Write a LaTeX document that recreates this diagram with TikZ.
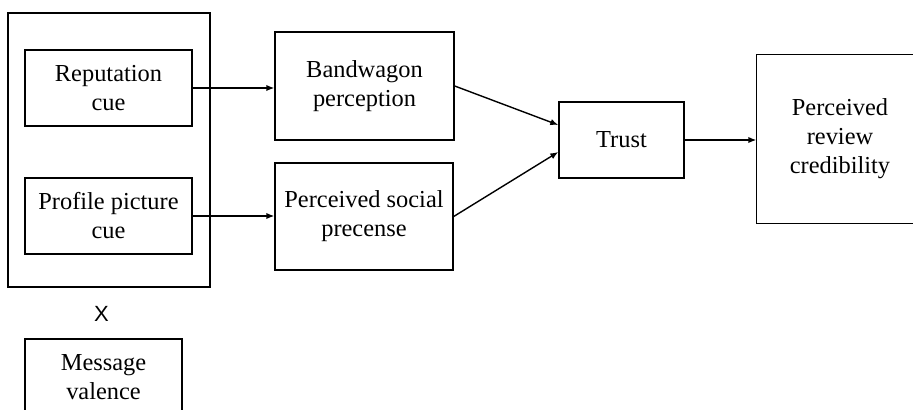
\documentclass[tikz,border=0pt]{standalone}
\usepackage{fontspec}
\setmainfont{Liberation Serif}
\newfontfamily\xfont{Liberation Sans}
\usetikzlibrary{arrows.meta}

\begin{document}
\begin{tikzpicture}[x=0.5pt,y=-0.5pt,font=\fontsize{12.2}{14.5}\selectfont,>={Latex[length=4pt,width=3.2pt]},line width=0.7pt,
box/.style={draw,align=center,inner sep=0}]
\useasboundingbox (0,0) rectangle (913,410); \clip (0,0) rectangle (913,410);
\node[box,minimum width=101pt,minimum height=137pt] (cues) at (109,150) {};
\node[box,minimum width=83.5pt,minimum height=38pt] (rep) at (108.5,88) {Reputation\\cue};
\node[box,minimum width=83.5pt,minimum height=38pt] (prof) at (108.5,216) {Profile picture\\cue};
\node[font=\xfont\fontsize{11}{13}\selectfont,inner sep=0] (x) at (101.5,314) {X};
\node[box,minimum width=78.5pt,minimum height=38pt] (msg) at (103.5,377) {Message\\valence};
\node[box,minimum width=89.5pt,minimum height=54pt] (band) at (364.5,86) {Bandwagon\\perception};
\node[box,minimum width=89pt,minimum height=53.5pt] (soc) at (364,216.5) {Perceived social\\precense};
\node[box,minimum width=62.5pt,minimum height=38pt] (trust) at (621.5,140) {Trust};
\node[align=center,inner sep=0,minimum width=83pt,minimum height=84pt] (cred) at (840,139) {Perceived\\review\\credibility};
\draw ([xshift=10pt]cred.north east) -- (cred.north west) -- (cred.south west) -- ([xshift=10pt]cred.south east);
\draw[->] (rep.east) -- (rep.east -| band.west);\draw[->] (prof.east) -- (prof.east -| soc.west);
\draw[->] (band.east) -- ([yshift=7.5pt]trust.west);\draw[->] (soc.east) -- ([yshift=-6pt]trust.west);
\draw[->] (trust.east) -- (trust.east -| cred.west);
\end{tikzpicture}
\end{document}
